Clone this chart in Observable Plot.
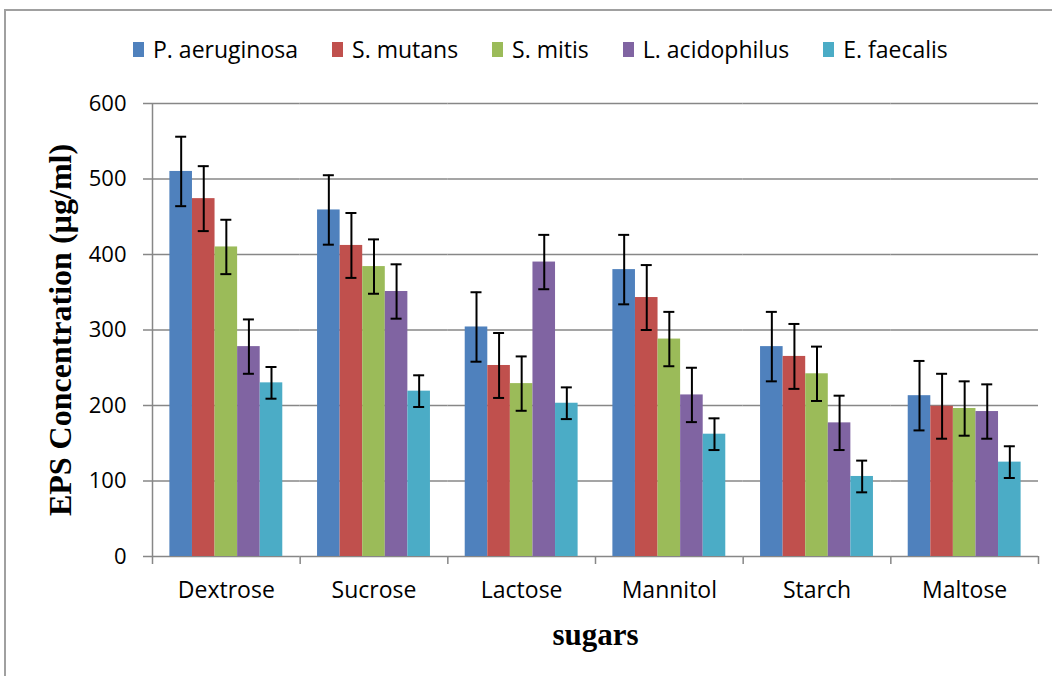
<!DOCTYPE html>
<html><head><meta charset="utf-8">
<script src="https://cdn.jsdelivr.net/npm/d3@7"></script>
<script src="https://cdn.jsdelivr.net/npm/@observablehq/plot@0.6"></script>
<style>
html,body{margin:0;padding:0;background:#fff;overflow:hidden;width:1052px;height:676px}
#frame{position:absolute;left:4px;top:9px;width:1100px;height:720px;border-top:2px solid #a0a0a0;border-left:2px solid #a0a0a0;z-index:5;pointer-events:none}
#legend{position:absolute;left:133px;top:38px;display:flex;align-items:flex-start;font-family:"Open Sans";font-size:23px;line-height:23px;color:#000;white-space:nowrap}
#legend .item{display:flex;align-items:flex-start;margin-right:34px}
#legend .sw{width:11px;height:15px;margin-top:4px;margin-right:9px}
#chart{position:absolute;left:0;top:80px}
</style></head>
<body>
<div id="frame"></div>
<div id="legend"></div>
<div id="chart"></div>
<script>
const categories = ["Dextrose","Sucrose","Lactose","Mannitol","Starch","Maltose"];
const series = ["P. aeruginosa","S. mutans","S. mitis","L. acidophilus","E. faecalis"];
const colors = ["#4F81BD","#C0504D","#9BBB59","#8064A2","#4BACC6"];
const pAeruginosa = [510, 459, 304, 380, 278, 213];
const sMutans     = [474, 412, 253, 343, 265, 199];
const sMitis      = [410, 384, 229, 288, 242, 196];
const lAcidophilus= [278, 351, 390, 214, 177, 192];
const eFaecalis   = [230, 219, 203, 162, 106, 125];
const errors = [46, 43, 36, 36, 21];
const yTicks = [0, 100, 200, 300, 400, 500, 600];
const yTitle = "EPS Concentration (µg/ml)";
const xTitle = "sugars";

const seriesValues = [pAeruginosa, sMutans, sMitis, lAcidophilus, eFaecalis];
const rows = [];
categories.forEach((c, i) => series.forEach((s, j) => rows.push({category: c, series: s, value: seriesValues[j][i], err: errors[j]})));

// legend
const leg = document.getElementById("legend");
series.forEach((s, j) => {
  const it = document.createElement("div"); it.className = "item";
  const sw = document.createElement("div"); sw.className = "sw"; sw.style.background = colors[j];
  const tx = document.createElement("span"); tx.textContent = s;
  it.append(sw, tx); leg.append(it);
});

const W = 1052, H = 596, ML = 152, MR = 14, MT = 23, MB = 120;
const padOuter = 0.77;
const facetW = (W - ML - MR) / categories.length;
const xStep = facetW / (series.length + 2 * padOuter);
const edge = xStep * (0.5 + padOuter);
const gray = "#878787";

const chart = Plot.plot({
  width: W, height: H, marginTop: MT, marginBottom: MB, marginLeft: ML, marginRight: MR,
  style: {fontFamily: "Open Sans", background: "#fff", color: "#000", overflow: "visible"},
  fx: {domain: categories, padding: 0, round: false, label: null},
  x: {domain: series, paddingInner: 0, paddingOuter: padOuter, round: false, axis: null},
  y: {domain: [0, 600], label: null},
  color: {domain: series, range: colors},
  marks: [
    Plot.gridY({ticks: yTicks, stroke: gray, strokeOpacity: 1, strokeWidth: 1.5}),
    Plot.barY(rows, {fx: "category", x: "series", y: "value", fill: "series"}),
    Plot.ruleX(rows, {fx: "category", x: "series", y1: d => d.value - d.err, y2: d => d.value + d.err, stroke: "#000", strokeWidth: 2}),
    Plot.tickY(rows, {fx: "category", x: "series", y: d => d.value - d.err, stroke: "#000", strokeWidth: 2, insetLeft: (xStep - 11) / 2, insetRight: (xStep - 11) / 2}),
    Plot.tickY(rows, {fx: "category", x: "series", y: d => d.value + d.err, stroke: "#000", strokeWidth: 2, insetLeft: (xStep - 11) / 2, insetRight: (xStep - 11) / 2}),
    Plot.ruleX([categories[0]], {fx: d => d, x: () => series[0], y1: 600, y2: 0, dx: -edge, insetBottom: -8, stroke: gray, strokeWidth: 1.5}),
    Plot.ruleX(categories.slice(1), {fx: d => d, x: () => series[0], y1: 0, y2: 0, dx: -edge, insetBottom: -8, stroke: gray, strokeWidth: 1.5}),
    Plot.ruleX([categories[categories.length - 1]], {fx: d => d, x: () => series[series.length - 1], y1: 0, y2: 0, dx: edge, insetBottom: -8, stroke: gray, strokeWidth: 1.5}),
    Plot.axisY({ticks: yTicks, tickSize: 9, tickPadding: 17, fontSize: 22, stroke: gray, strokeWidth: 1.5, fill: "#000", label: null, tickFormat: d => String(d)}),
    Plot.axisY({ticks: [], label: yTitle, labelAnchor: "center", labelArrow: "none", labelOffset: 104, fontFamily: "Liberation Serif", fontWeight: "bold", fontSize: 32, fill: "#000"}),
    Plot.axisFx({anchor: "bottom", tickSize: 0, tickPadding: 25, fontSize: 23, fill: "#000", label: null}),
    Plot.axisFx({anchor: "bottom", ticks: [], label: xTitle, labelAnchor: "center", labelArrow: "none", labelOffset: 88, fontFamily: "Liberation Serif", fontWeight: "bold", fontSize: 31, fill: "#000"})
  ]
});
document.getElementById("chart").append(chart);
</script>
</body></html>
